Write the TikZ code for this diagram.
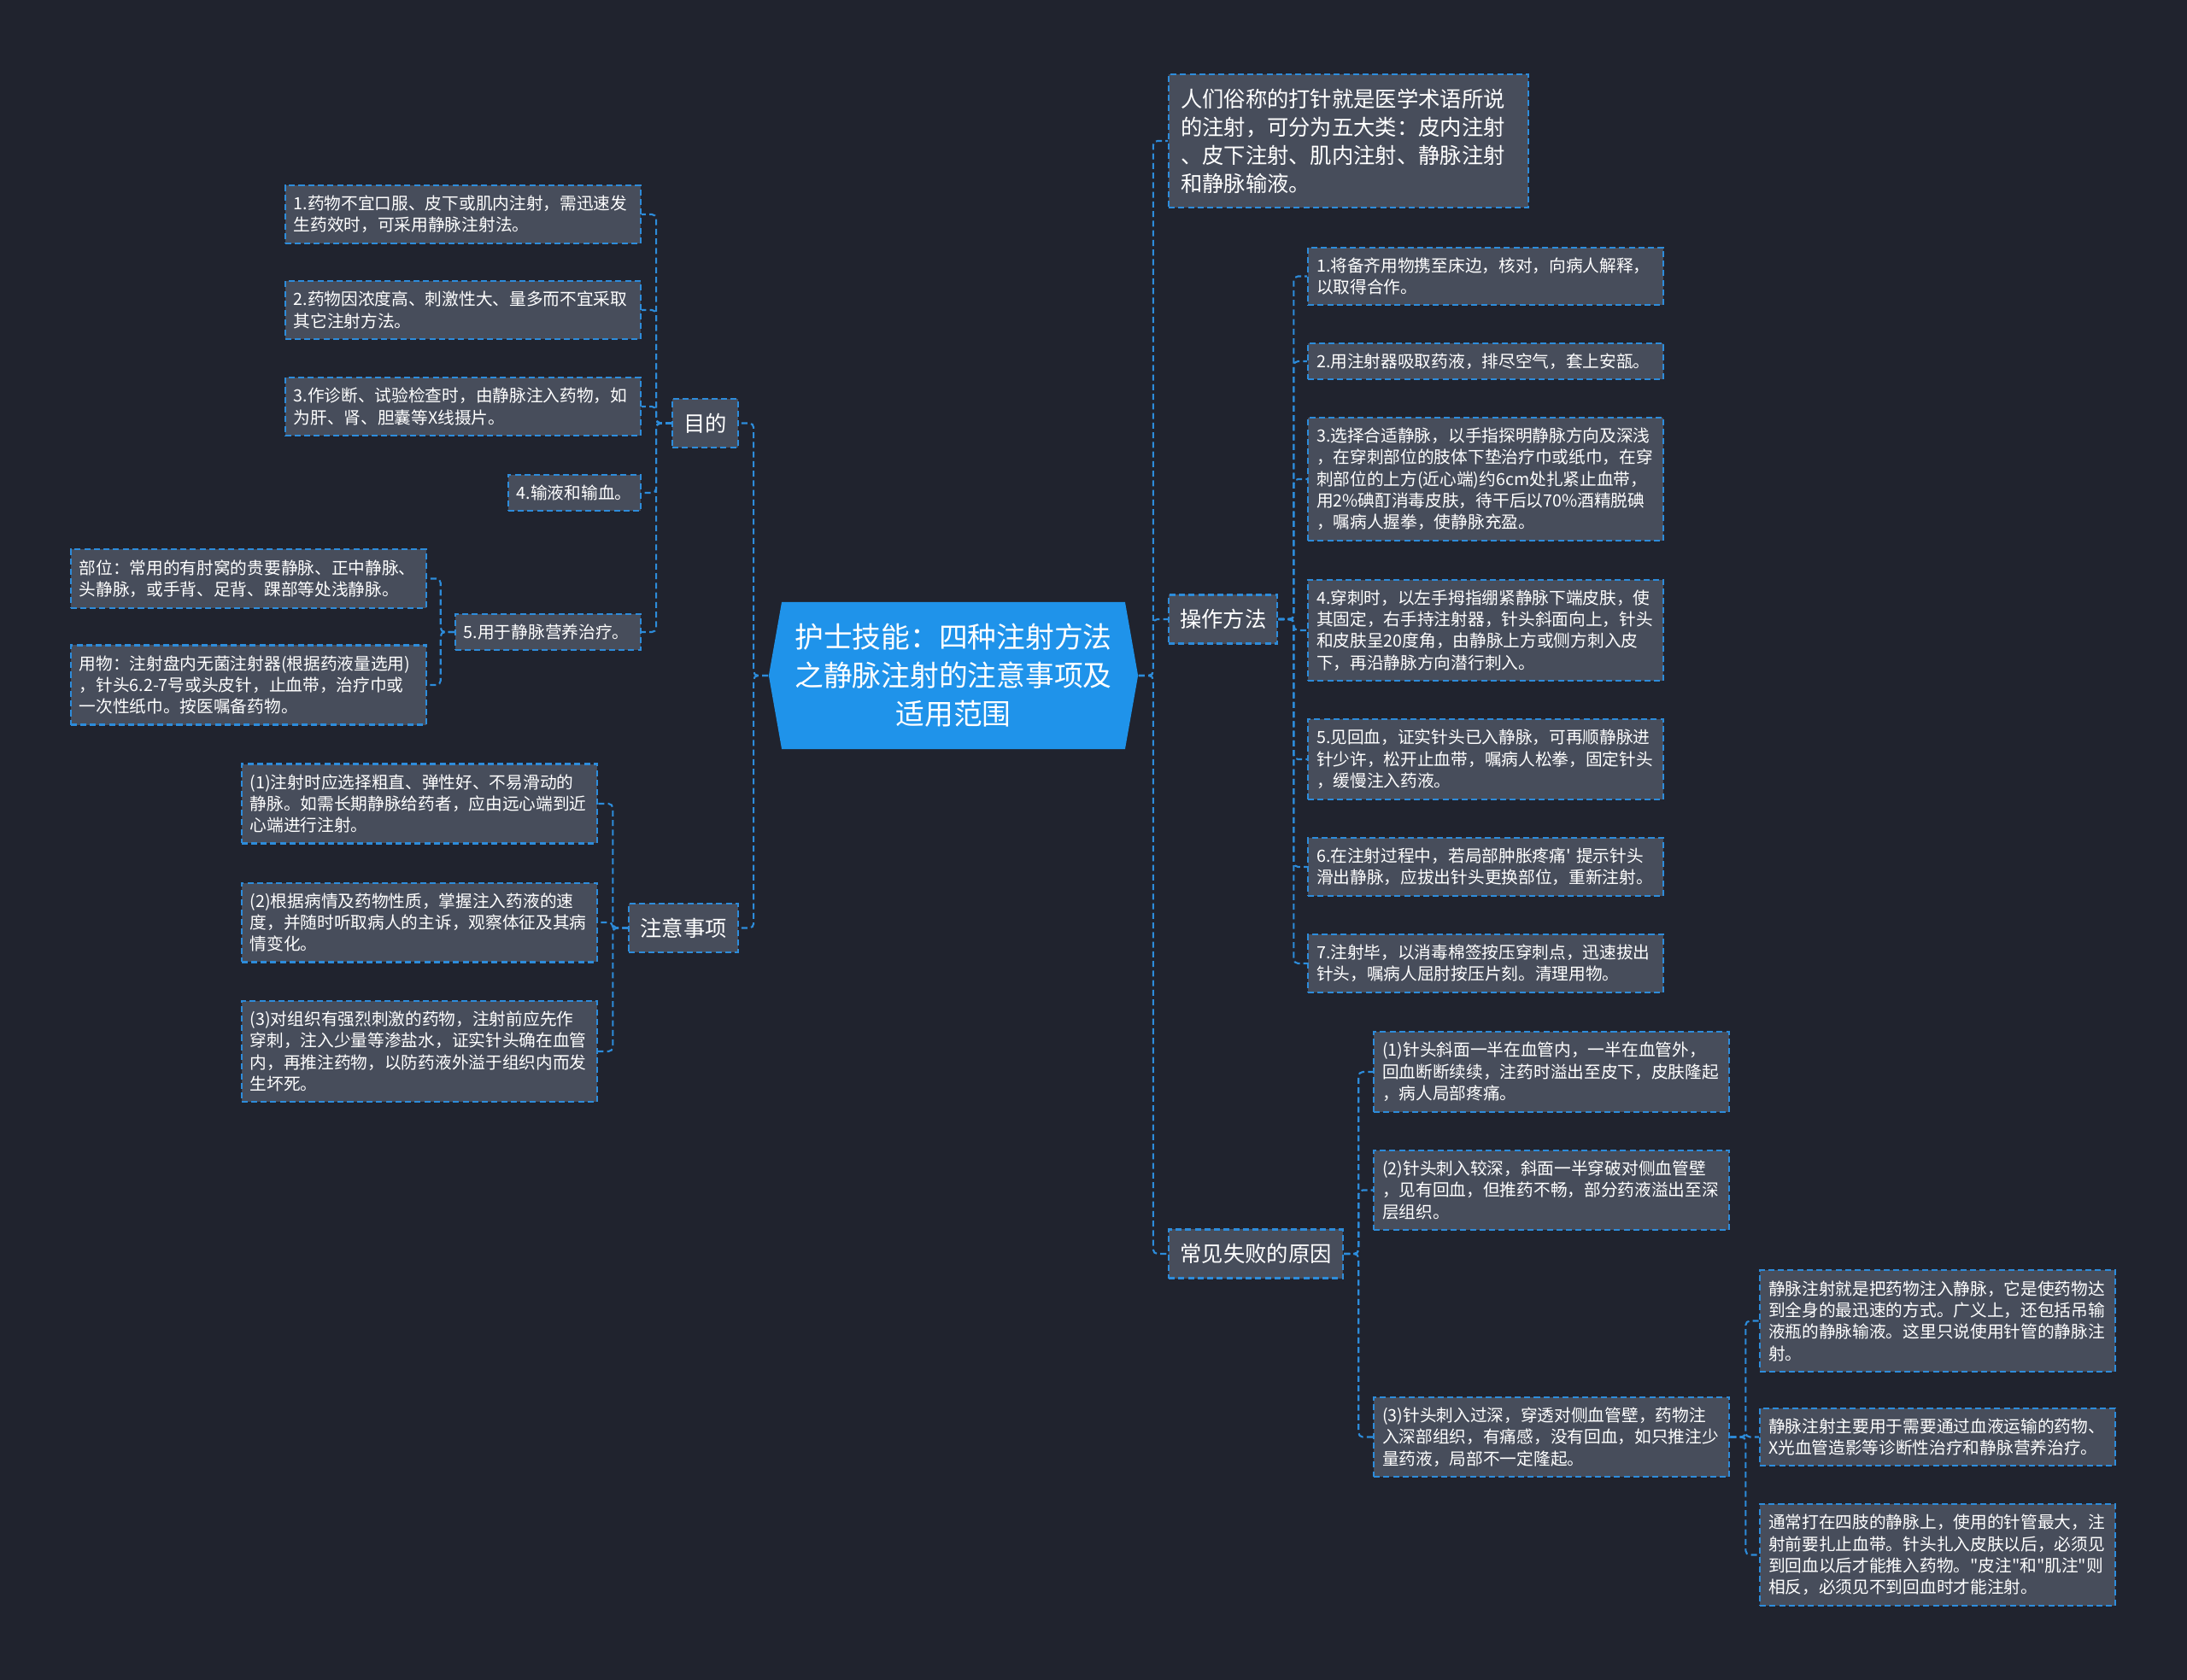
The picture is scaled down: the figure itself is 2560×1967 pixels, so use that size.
\documentclass[tikz,border=0pt]{standalone}
\usepackage{fontspec}
\setmainfont{Noto Sans CJK SC}[Ligatures=TeXOff]
\usepackage{xcolor}
\usetikzlibrary{shapes.symbols}

\definecolor{bgnavy}{HTML}{20232E}
\definecolor{boxgray}{HTML}{474D5B}
\definecolor{linkblue}{HTML}{2D8CDB}
\definecolor{rootblue}{HTML}{1F93EA}

\begin{document}
\begin{tikzpicture}
                        [x=0.01cm, y=-0.01cm,
                        link/.style = {draw=linkblue, line width=0.6pt,
                                    dash pattern=on 2pt off 1.2pt,
                                    rounded corners=0.05cm},
                        leaf/.style = {draw=linkblue, fill=boxgray, text=white,
                                    line width=0.6pt, dash pattern=on 2pt off 1.2pt,
                                    font=\fontsize{5.6}{7.2}\selectfont,
                                    align=left, text width=3.96cm,
                                    inner xsep=0.1cm, inner ysep=0.12cm},
                        topic/.style = {draw=linkblue, fill=boxgray, text=white,
                                    line width=0.6pt, dash pattern=on 2pt off 1.2pt,
                                    font=\fontsize{7.2}{9.4}\selectfont,
                                    inner xsep=0.13cm, inner ysep=0.1cm,
                                    minimum height=0.57cm},
                        root/.style = {signal, signal to=west and east,
                                    signal pointer angle=160,
                                    fill=rootblue, text=white,
                                    font=\fontsize{9.6}{12.8}\selectfont,
                                    align=center, text width=3.8cm,
                                    minimum width=4.32cm, minimum height=1.72cm,
                                    inner xsep=0.05cm}]
                        \fill[bgnavy] (0,0) rectangle (2560,1967);
                        \useasboundingbox (0,0) rectangle (2560,1967);
                        % Tema central
                        \node[root] (root) at (1116,791) {护士技能：四种注射方法\\之静脉注射的注意事项及\\适用范围};
                        % Rama izquierda
                        \node[topic] (mudi) at (825.5,495.5) {目的};
                        \node[topic] (zhuyi) at (800,1086.5) {注意事项};
                        \node[leaf,anchor=east] (m1) at (751,251) {1.药物不宜口服、皮下或肌内注射，需迅速发\\生药效时，可采用静脉注射法。};
                        \node[leaf,anchor=east] (m2) at (751,363) {2.药物因浓度高、刺激性大、量多而不宜采取\\其它注射方法。};
                        \node[leaf,anchor=east] (m3) at (751,476) {3.作诊断、试验检查时，由静脉注入药物，如\\为肝、肾、胆囊等X线摄片。};
                        \node[leaf,anchor=east,text width=1.35cm] (m4) at (751,577) {4.输液和输血。};
                        \node[leaf,anchor=east,text width=1.97cm] (m5) at (751,740) {5.用于静脉营养治疗。};
                        \node[leaf,anchor=east] (bw) at (500,677.5) {部位：常用的有肘窝的贵要静脉、正中静脉、\\头静脉，或手背、足背、踝部等处浅静脉。};
                        \node[leaf,anchor=east] (yw) at (500,802) {用物：注射盘内无菌注射器(根据药液量选用)\\，针头6.2-7号或头皮针，止血带，治疗巾或\\一次性纸巾。按医嘱备药物。};
                        \node[leaf,anchor=east] (z1) at (700,941) {(1)注射时应选择粗直、弹性好、不易滑动的\\静脉。如需长期静脉给药者，应由远心端到近\\心端进行注射。};
                        \node[leaf,anchor=east] (z2) at (700,1080) {(2)根据病情及药物性质，掌握注入药液的速\\度，并随时听取病人的主诉，观察体征及其病\\情变化。};
                        \node[leaf,anchor=east] (z3) at (700,1231) {(3)对组织有强烈刺激的药物，注射前应先作\\穿刺，注入少量等渗盐水，证实针头确在血管\\内，再推注药物，以防药液外溢于组织内而发\\生坏死。};
                        % Rama derecha
                        \node[topic,anchor=west,align=left,text width=3.93cm,
                              inner xsep=0.14cm,inner ysep=0.17cm] (intro) at (1367,165) {人们俗称的打针就是医学术语所说\\的注射，可分为五大类：皮内注射\\、皮下注射、肌内注射、静脉注射\\和静脉输液。};
                        \node[topic,anchor=west] (caozuo) at (1367,725) {操作方法};
                        \node[topic,anchor=west,minimum width=2.04cm] (shibai) at (1367,1468) {常见失败的原因};
                        \node[leaf,anchor=west] (c1) at (1530,323.5) {1.将备齐用物携至床边，核对，向病人解释，\\以取得合作。};
                        \node[leaf,anchor=west] (c2) at (1530,423) {2.用注射器吸取药液，排尽空气，套上安瓿。};
                        \node[leaf,anchor=west] (c3) at (1530,561) {3.选择合适静脉，以手指探明静脉方向及深浅\\，在穿刺部位的肢体下垫治疗巾或纸巾，在穿\\刺部位的上方(近心端)约6cm处扎紧止血带，\\用2\%碘酊消毒皮肤，待干后以70\%酒精脱碘\\，嘱病人握拳，使静脉充盈。};
                        \node[leaf,anchor=west] (c4) at (1530,738) {4.穿刺时，以左手拇指绷紧静脉下端皮肤，使\\其固定，右手持注射器，针头斜面向上，针头\\和皮肤呈20度角，由静脉上方或侧方刺入皮\\下，再沿静脉方向潜行刺入。};
                        \node[leaf,anchor=west] (c5) at (1530,889) {5.见回血，证实针头已入静脉，可再顺静脉进\\针少许，松开止血带，嘱病人松拳，固定针头\\，缓慢注入药液。};
                        \node[leaf,anchor=west] (c6) at (1530,1015) {6.在注射过程中，若局部肿胀疼痛'~提示针头\\滑出静脉，应拔出针头更换部位，重新注射。};
                        \node[leaf,anchor=west] (c7) at (1530,1128) {7.注射毕，以消毒棉签按压穿刺点，迅速拔出\\针头，嘱病人屈肘按压片刻。清理用物。};
                        \node[leaf,anchor=west] (s1) at (1607,1255) {(1)针头斜面一半在血管内，一半在血管外，\\回血断断续续，注药时溢出至皮下，皮肤隆起\\，病人局部疼痛。};
                        \node[leaf,anchor=west] (s2) at (1607,1393.5) {(2)针头刺入较深，斜面一半穿破对侧血管壁\\，见有回血，但推药不畅，部分药液溢出至深\\层组织。};
                        \node[leaf,anchor=west] (s3) at (1607,1682.5) {(3)针头刺入过深，穿透对侧血管壁，药物注\\入深部组织，有痛感，没有回血，如只推注少\\量药液，局部不一定隆起。};
                        \node[leaf,anchor=west] (g1) at (2059,1546.5) {静脉注射就是把药物注入静脉，它是使药物达\\到全身的最迅速的方式。广义上，还包括吊输\\液瓶的静脉输液。这里只说使用针管的静脉注\\射。};
                        \node[leaf,anchor=west] (g2) at (2059,1682.5) {静脉注射主要用于需要通过血液运输的药物、\\X光血管造影等诊断性治疗和静脉营养治疗。};
                        \node[leaf,anchor=west] (g3) at (2059,1820.5) {通常打在四肢的静脉上，使用的针管最大，注\\射前要扎止血带。针头扎入皮肤以后，必须见\\到回血以后才能推入药物。"皮注"和"肌注"则\\相反，必须见不到回血时才能注射。};
                        % Conexiones
                        \foreach \n in {mudi,zhuyi}
                            \draw[link] (root.west) -- ++(-17,0) |- (\n.east);
                        \foreach \n in {intro,caozuo,shibai}
                            \draw[link] (root.east) -- ++(17,0) |- (\n.west);
                        \foreach \n in {m1,m2,m3,m4,m5}
                            \draw[link] (mudi.west) -- ++(-18,0) |- (\n.east);
                        \foreach \n in {bw,yw}
                            \draw[link] (m5.west) -- ++(-16,0) |- (\n.east);
                        \foreach \n in {z1,z2,z3}
                            \draw[link] (zhuyi.west) -- ++(-18,0) |- (\n.east);
                        \foreach \n in {c1,c2,c3,c4,c5,c6,c7}
                            \draw[link] (caozuo.east) -- ++(18,0) |- (\n.west);
                        \foreach \n in {s1,s2,s3}
                            \draw[link] (shibai.east) -- ++(17,0) |- (\n.west);
                        \foreach \n in {g1,g2,g3}
                            \draw[link] (s3.east) -- ++(18,0) |- (\n.west);
                    \end{tikzpicture}
\end{document}
